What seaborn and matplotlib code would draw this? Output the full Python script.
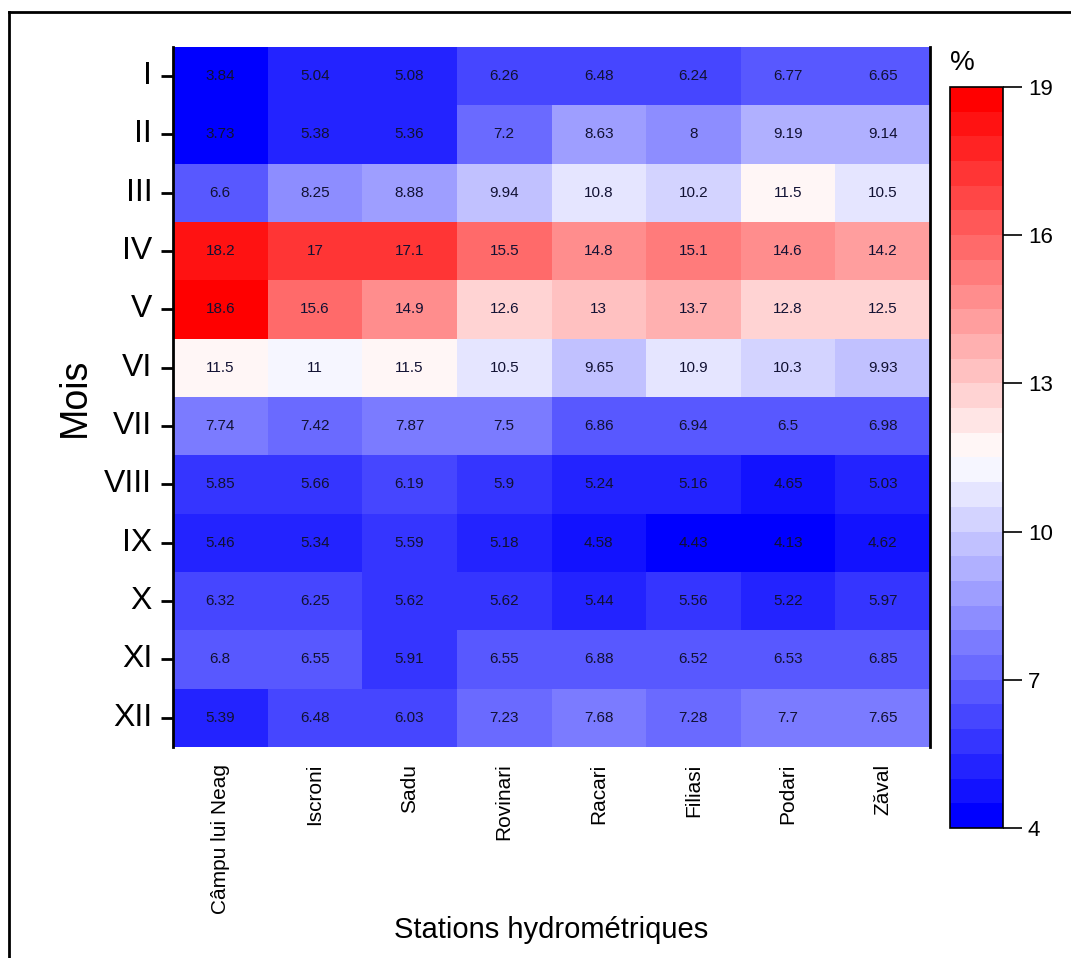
import numpy as np
import pandas as pd
import seaborn as sns
import matplotlib
matplotlib.use("Agg")
import matplotlib.pyplot as plt
from matplotlib.colors import LinearSegmentedColormap
from matplotlib.lines import Line2D

months = ["I", "II", "III", "IV", "V", "VI", "VII", "VIII", "IX", "X", "XI", "XII"]
stations = ["Câmpu lui Neag", "Iscroni", "Sadu", "Rovinari", "Racari", "Filiasi", "Podari", "Zăval"]

campu_lui_neag = [3.84, 3.73, 6.6, 18.2, 18.6, 11.5, 7.74, 5.85, 5.46, 6.32, 6.8, 5.39]
iscroni = [5.04, 5.38, 8.25, 17, 15.6, 11, 7.42, 5.66, 5.34, 6.25, 6.55, 6.48]
sadu = [5.08, 5.36, 8.88, 17.1, 14.9, 11.5, 7.87, 6.19, 5.59, 5.62, 5.91, 6.03]
rovinari = [6.26, 7.2, 9.94, 15.5, 12.6, 10.5, 7.5, 5.9, 5.18, 5.62, 6.55, 7.23]
racari = [6.48, 8.63, 10.8, 14.8, 13, 9.65, 6.86, 5.24, 4.58, 5.44, 6.88, 7.68]
filiasi = [6.24, 8, 10.2, 15.1, 13.7, 10.9, 6.94, 5.16, 4.43, 5.56, 6.52, 7.28]
podari = [6.77, 9.19, 11.5, 14.6, 12.8, 10.3, 6.5, 4.65, 4.13, 5.22, 6.53, 7.7]
zaval = [6.65, 9.14, 10.5, 14.2, 12.5, 9.93, 6.98, 5.03, 4.62, 5.97, 6.85, 7.65]

cbar_ticks = [4, 7, 10, 13, 16, 19]

plt.rcParams["font.family"] = ["Liberation Sans", "DejaVu Sans"]

df = pd.DataFrame(
    {s: v for s, v in zip(stations, [campu_lui_neag, iscroni, sadu, rovinari,
                                     racari, filiasi, podari, zaval])},
    index=months,
)

cmap = LinearSegmentedColormap.from_list("bwr30", ["#0000ff", "#ffffff", "#ff0000"], N=30)

fig = plt.figure(figsize=(10.71, 9.58), dpi=100)
ax = fig.add_axes([0.1615, 0.2203, 0.7069, 0.7307])
cax = fig.add_axes([0.887, 0.1357, 0.0495, 0.7735])

sns.heatmap(df, ax=ax, cmap=cmap, vmin=4, vmax=19, annot=True, fmt="g",
            annot_kws={"fontsize": 11, "color": "#111133"},
            cbar_ax=cax, cbar_kws={"ticks": cbar_ticks},
            linewidths=0)

# axes styling
for side in ["left", "right"]:
    ax.spines[side].set_visible(True)
    ax.spines[side].set_linewidth(2)
    ax.spines[side].set_color("black")
for side in ["top", "bottom"]:
    ax.spines[side].set_visible(False)

ax.set_yticklabels(months, rotation=0, fontsize=23)
ax.tick_params(axis="y", length=9, width=2, pad=6, direction="out")
ax.set_xticklabels(stations, rotation=90, fontsize=15)
ax.tick_params(axis="x", length=0, pad=12)
ax.set_ylabel("Mois", fontsize=27, labelpad=8)
ax.set_xlabel("Stations hydrométriques", fontsize=21, labelpad=2)

# colorbar styling
cbar = ax.collections[0].colorbar
cbar.outline.set_edgecolor("black")
cbar.outline.set_linewidth(1.2)
cax.tick_params(labelsize=16, length=14, width=1.2, pad=4)
cax.set_title("%", fontsize=20, pad=12, loc="left")

# figure border (top and left)
fig.add_artist(Line2D([0.0084, 0.0084], [0.0, 0.9875], transform=fig.transFigure,
                      color="black", linewidth=2))
fig.add_artist(Line2D([0.0084, 1.0], [0.9875, 0.9875], transform=fig.transFigure,
                      color="black", linewidth=2))

fig.savefig("out.png", dpi=100)
